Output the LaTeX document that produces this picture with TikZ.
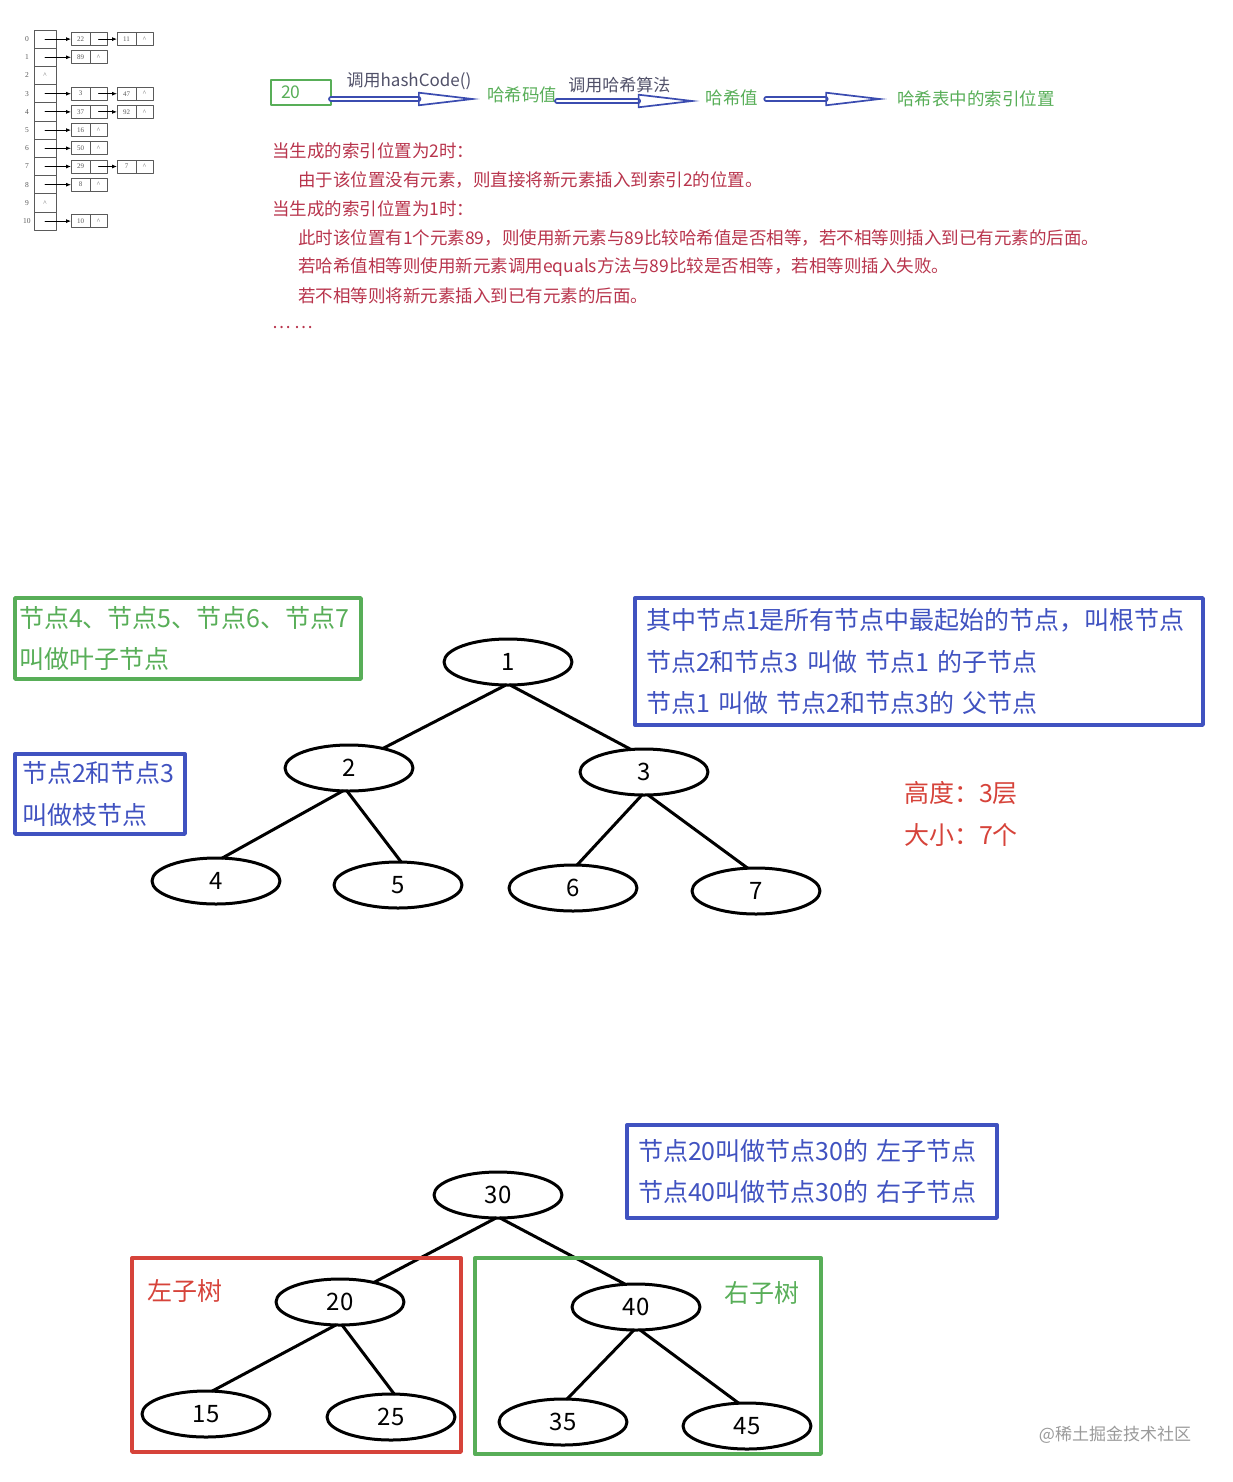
\documentclass[tikz,border=0pt]{standalone}
\usepackage{fontspec}
\setmainfont{Noto Sans CJK SC}
\newfontfamily\tablefont{Liberation Serif}
\usetikzlibrary{arrows.meta,shapes.geometric,positioning}
\definecolor{tGray}{HTML}{5A5A5A}
\definecolor{tGreen}{HTML}{58AE58}
\definecolor{tBlue}{HTML}{4052C0}
\definecolor{tRed}{HTML}{D6433A}
\definecolor{tCrimson}{HTML}{B8344C}
\definecolor{aBlue}{HTML}{3B4CB0}
\definecolor{aLabel}{HTML}{505068}
\definecolor{wGray}{HTML}{9A9A9A}
\tikzset{
  hashPic/.style={
    x=1pt, y=-1pt,
    line cap=round, line join=round,
    every node/.style={inner sep=0pt, outer sep=0pt},
  },
  % --- hash table (top left)
  slotBox/.style={draw=tGray, line width=0.6pt,
    minimum width=22pt, minimum height=18.2pt},
  slotLabel/.style={font=\tablefont\fontsize{7.5}{8}\selectfont, text=tGray},
  cellBox/.style={draw=tGray, line width=0.6pt, minimum height=13pt,
    font=\tablefont\fontsize{7}{7}\selectfont, text=tGray},
  valCell/.style={cellBox, minimum width=19pt},
  ptrCell/.style={cellBox, minimum width=17pt},
  nullMark/.style={font=\tablefont\fontsize{7}{7}\selectfont, text=tGray},
  tblArrow/.style={-{Latex[length=5pt, width=4pt]}, black, line width=0.8pt},
  % --- hashing flow
  flowText/.style={font=\fontsize{17.5}{20}\selectfont, text=tGreen},
  flowLabel/.style={font=\fontsize{17}{20}\selectfont, text=aLabel},
  keyBox/.style={draw=tGreen, line width=2.6pt, minimum width=60pt,
    minimum height=25pt, flowText},
  hashArrow/.style={draw=aBlue, line width=1.7pt, double=white,
    double distance=2.4pt,
    -{Triangle[open, length=62pt, width=14pt, line width=1.7pt]}},
  noteText/.style={font=\fontsize{17.5}{20}\selectfont, text=tCrimson, anchor=west},
  % --- trees
  treeNode/.style={ellipse, draw=black, line width=3pt, fill=white,
    minimum width=128pt, minimum height=46pt, font=\fontsize{24}{24}\selectfont},
  treeEdge/.style={black, line width=3pt},
  noteBox/.style={line width=3.4pt, align=left,
    font=\fontsize{25}{41.5}\selectfont},
  greenNote/.style={noteBox, draw=tGreen, text=tGreen},
  blueNote/.style={noteBox, draw=tBlue, text=tBlue},
  sideText/.style={font=\fontsize{25}{25}\selectfont, anchor=west},
  frame/.style={line width=3.4pt},
}
\begin{document}
\begin{tikzpicture}[hashPic]
\useasboundingbox (0,0) rectangle (1232,1482);

% ============================================================
% HASH TABLE: slots 0..10, chained entries
% ============================================================
\foreach \r in {0,...,10} {
  \node[slotBox] (slot\r) at (45, 39.1+18.2*\r) {};
  \node[slotLabel] (lab\r) at (27, 39.1+18.2*\r) {\r};
}
\foreach \r in {2,9}
  \node[nullMark] (null\r) at (slot\r.center) {\textasciicircum};

% slots holding two entries
\foreach \r/\a/\b in {0/22/11, 3/3/47, 4/37/92, 7/29/7} {
  \node[valCell] (val\r) at (80.5, 39.1+18.2*\r) {\a};
  \node[ptrCell, right=0pt of val\r] (ptr\r) {};
  \node[valCell] (nxt\r) at (126.5, 39.1+18.2*\r) {\b};
  \node[ptrCell, right=0pt of nxt\r] (end\r) {\textasciicircum};
  \draw[tblArrow] (slot\r.center) -- (val\r.west);
  \draw[tblArrow] (ptr\r.center) -- (nxt\r.west);
}
% slots holding one entry
\foreach \r/\a in {1/89, 5/16, 6/50, 8/8, 10/10} {
  \node[valCell] (val\r) at (80.5, 39.1+18.2*\r) {\a};
  \node[ptrCell, right=0pt of val\r] (ptr\r) {\textasciicircum};
  \draw[tblArrow] (slot\r.center) -- (val\r.west);
}

% ============================================================
% HASHING FLOW: key -> hash code -> hash -> index
% ============================================================
\node[keyBox, text width=40pt, inner xsep=10pt, align=left] (key)
  at (301, 92.5) {20};
\node[flowText] (code) at (522, 95) {哈希码值};
\node[flowText] (hval) at (732, 98) {哈希值};
\node[flowText] (idx)  at (976, 99) {哈希表中的索引位置};

\draw[hashArrow, shorten >=7pt] ([yshift=-6.5pt]key.east)
  -- ([yshift=-6.5pt]key.east -| code.west)
  node[flowLabel, midway, above=9pt] (callA) {调用hashCode()};
\draw[hashArrow, shorten >=6pt] ([yshift=-6pt]code.east)
  -- ([yshift=-6pt]code.east -| hval.west)
  node[flowLabel, pos=0.42, above=8pt] (callB) {调用哈希算法};
\draw[hashArrow, shorten <=8pt, shorten >=10pt] (hval.east |- idx.west)
  -- (idx.west);

% notes on collisions
\foreach \x/\y/\t [count=\i] in {
  272/151/当生成的索引位置为2时：,
  298/180/由于该位置没有元素，则直接将新元素插入到索引2的位置。,
  272/209/当生成的索引位置为1时：,
  298/238/此时该位置有1个元素89，则使用新元素与89比较哈希值是否相等，若不相等则插入到已有元素的后面。,
  298/267/若哈希值相等则使用新元素调用equals方法与89比较是否相等，若相等则插入失败。,
  298/296/若不相等则将新元素插入到已有元素的后面。,
  272/328/… …}
  \node[noteText] (line\i) at (\x, \y) {\t};

% ============================================================
% TREE 1: nodes 1..7
% ============================================================
\node[treeNode] (n1) at (508, 662) {1};
\node[treeNode] (n2) at (349, 768) {2};
\node[treeNode] (n3) at (644, 772) {3};
\node[treeNode] (n4) at (216, 881) {4};
\node[treeNode] (n5) at (398, 885) {5};
\node[treeNode] (n6) at (573, 888) {6};
\node[treeNode] (n7) at (756, 891) {7};
\foreach \a/\sa/\b/\sb in {n1/265/n2/30, n1/275/n3/120, n2/255/n4/75,
                           n2/265/n5/82, n3/265/n6/80, n3/280/n7/110}
  \draw[treeEdge] (\a.\sa) -- (\b.\sb);

\node[greenNote, minimum width=346pt, minimum height=81pt,
      text width=338pt, inner xsep=4pt] (leafNote) at (188, 638.5)
  {节点4、节点5、节点6、节点7\\叫做叶子节点};
\node[blueNote, minimum width=568pt, minimum height=127pt,
      text width=546pt, inner xsep=11pt] (rootNote) at (919, 661.5)
  {其中节点1是所有节点中最起始的节点，叫根节点\\
   节点2和节点3 叫做 节点1 的子节点\\
   节点1 叫做 节点2和节点3的 父节点};
\node[blueNote, minimum width=170pt, minimum height=80pt,
      text width=156pt, inner xsep=7pt] (branchNote) at (100, 794)
  {节点2和节点3\\叫做枝节点};
\node[sideText, text=tRed] (height) at (904, 793) {高度：3层};
\node[sideText, text=tRed] (size)   at (904, 835) {大小：7个};

% ============================================================
% TREE 2: left / right subtrees
% ============================================================
\node[treeNode] (n30) at (498, 1195) {30};
\node[treeNode] (n20) at (340, 1302) {20};
\node[treeNode] (n40) at (636, 1307) {40};
\node[treeNode] (n15) at (206, 1414) {15};
\node[treeNode] (n25) at (391, 1417) {25};
\node[treeNode] (n35) at (563, 1422) {35};
\node[treeNode] (n45) at (747, 1426) {45};
\foreach \a/\sa/\b/\sb in {n30/265/n20/30, n30/275/n40/115, n20/260/n15/75,
                           n20/275/n25/82, n40/265/n35/80, n40/280/n45/110}
  \draw[treeEdge] (\a.\sa) -- (\b.\sb);

\draw[frame, draw=tRed]   (132, 1258) rectangle (461, 1452);
\draw[frame, draw=tGreen] (475, 1258) rectangle (821, 1454);
\node[sideText, text=tRed]   (leftTag)  at (147, 1291) {左子树};
\node[sideText, text=tGreen] (rightTag) at (724, 1293) {右子树};

\node[blueNote, minimum width=370pt, minimum height=93pt,
      text width=348pt, inner xsep=11pt] (childNote) at (812, 1171.5)
  {节点20叫做节点30的 左子节点\\节点40叫做节点30的 右子节点};

\node[font=\fontsize{17}{17}\selectfont, text=wGray] (mark) at (1115, 1435)
  {@稀土掘金技术社区};

\end{tikzpicture}
\end{document}
